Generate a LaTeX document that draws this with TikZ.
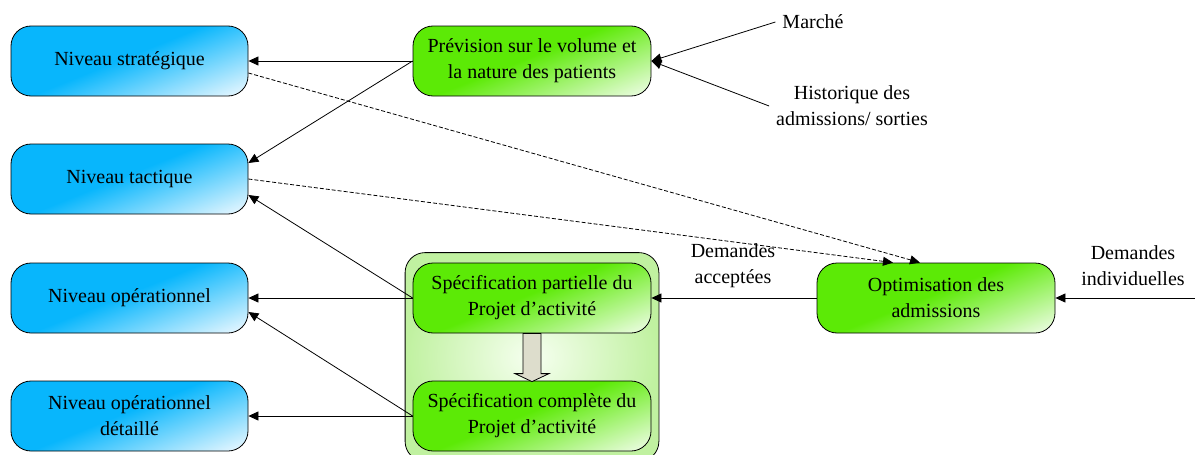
\documentclass[tikz,border=0pt]{standalone}
\usepackage{fontspec}
\setmainfont{Liberation Serif}
\usetikzlibrary{arrows.meta,fit,backgrounds,calc}
\definecolor{bleufonce}{RGB}{8,182,252}
\definecolor{bleuclair}{RGB}{238,249,255}
\definecolor{vertfonce}{RGB}{92,234,6}
\definecolor{vertclair}{RGB}{240,253,232}
\definecolor{vertcadre}{RGB}{192,241,160}
\definecolor{vertcentre}{RGB}{246,255,240}
\definecolor{grisfleche}{RGB}{221,221,204}
\pgfdeclareverticalshading{bleudeg}{100bp}{color(0bp)=(bleuclair); color(18bp)=(bleuclair); color(52bp)=(bleufonce); color(100bp)=(bleufonce)}
\pgfdeclareverticalshading{vertdeg}{100bp}{color(0bp)=(vertclair); color(18bp)=(vertclair); color(52bp)=(vertfonce); color(100bp)=(vertfonce)}
\begin{document}
\begin{tikzpicture}[x=0.5pt, y=-0.5pt,
	every node/.style={font=\fontsize{10}{13}\selectfont, align=center},
	niveau/.style={draw=black, thin, rounded corners=10pt, minimum width=118.5pt, minimum height=35pt,
		shade, shading=bleudeg, shading angle=22},
	tache/.style={draw=black, thin, rounded corners=10pt, minimum width=119pt, minimum height=35pt,
		shade, shading=vertdeg, shading angle=22},
	cadre/.style={draw=black, thin, rounded corners=10pt, inner color=vertcentre, outer color=vertcadre},
	fleche/.style={draw=black, thin, -{Triangle[length=5pt,width=4.5pt]}},
	pointille/.style={fleche, dashed, dash pattern=on 2pt off 1pt}]
	\useasboundingbox (0,0) rectangle (1195,455);
	\clip (0,0) rectangle (1195,455);
	% niveaux de decision
	\node[niveau] (strat) at (129.5,61) {Niveau stratégique};
	\node[niveau] (tact) at (129.5,179) {Niveau tactique};
	\node[niveau] (oper) at (129.5,298) {Niveau opérationnel};
	\node[niveau] (operdet) at (129.5,416) {Niveau opérationnel\\détaillé};
	% taches
	\node[tache] (prev) at (532,61) {Prévision sur le volume et\\la nature des patients};
	\node[tache] (specpart) at (532,298) {Spécification partielle du\\Projet d’activité};
	\node[tache] (speccomp) at (532,416) {Spécification complète du\\Projet d’activité};
	\node[tache] (optim) at (936,298) {Optimisation des\\admissions};
	\begin{scope}[on background layer]
		\node[cadre, fit=(specpart)(speccomp), inner xsep=3.75pt, inner ysep=5pt] (bloc) {};
	\end{scope}
	% textes libres
	\node (marche) at (813,22) {Marché};
	\node (histo) at (852,106) {Historique des\\admissions/ sorties};
	\node (accept) at (733,266) {Demandes\\acceptées};
	\node (indiv) at (1133,266) {Demandes\\individuelles};
	\coordinate (entree) at (1195,298);
	% fleches
	\draw[fleche] (marche.west) -- (prev.east);
	\draw[fleche] (histo.west) -- (prev.east);
	\draw[fleche] (prev.west) -- (strat.east);
	\draw[fleche] (prev.west) -- ($(tact.east)+(0,-16)$);
	\draw[fleche] (specpart.west) -- ($(tact.east)+(0,16)$);
	\draw[fleche] (specpart.west) -- (oper.east);
	\draw[fleche] (speccomp.west) -- ($(oper.east)+(0,14)$);
	\draw[fleche] (speccomp.west) -- (operdet.east);
	\draw[fleche] (optim.west) -- (specpart.east);
	\draw[fleche] (entree) -- (optim.east);
	\draw[pointille] ($(strat.east)+(0,12)$) -- ($(optim.north)+(-16,0)$);
	\draw[pointille] (tact.east) -- ($(optim.north)+(-43,0)$);
	% passage partielle -> complete
	\draw[draw=black, thin, fill=grisfleche] ($(specpart.south)+(-9,0)$) -- ($(specpart.south)+(9,0)$)
		-- ($(speccomp.north)+(9,-7)$) -- ($(speccomp.north)+(17,-7)$) -- ($(speccomp.north)+(0,1)$)
		-- ($(speccomp.north)+(-17,-7)$) -- ($(speccomp.north)+(-9,-7)$) -- cycle;
\end{tikzpicture}
\end{document}
